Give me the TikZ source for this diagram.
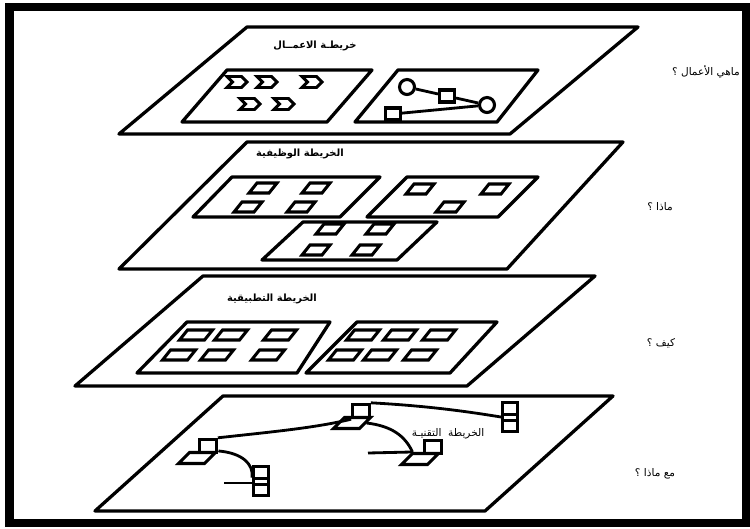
\documentclass[tikz,border=0pt]{standalone}
\usepackage{fontspec}
\newfontfamily\arabicfont[Script=Arabic]{DejaVu Sans}
\TeXXeTstate=1
\usepackage{tikz}
\usetikzlibrary{shapes.symbols}

\begin{document}
\begin{tikzpicture}[x=0.03cm, y=-0.03cm,
  every node/.style={font=\arabicfont\fontsize{9}{10}\selectfont, inner sep=0pt},
  outerframe/.style={line width=7pt},
  mapplane/.style={line width=2.8pt, line join=round},
  panel/.style={line width=2.8pt, line join=round},
  title/.style={font=\arabicfont\bfseries\fontsize{8.5}{10}\selectfont},
  question/.style={font=\arabicfont\fontsize{9}{10}\selectfont},
  chevron/.style={signal, signal from=west, signal to=east, draw, line width=2.5pt, minimum width=0.6cm, minimum height=0.33cm},
  cell/.style={rectangle, draw, xslant=0.8, line width=2.6pt, minimum width=0.6cm, minimum height=0.3cm},
  appcell/.style={cell, minimum width=0.75cm},
  hub/.style={circle, draw, line width=2.6pt, minimum size=0.45cm},
  unit/.style={rectangle, draw, line width=2.6pt, minimum width=0.45cm, minimum height=0.36cm},
  screen/.style={rectangle, draw, line width=2.6pt, minimum width=0.5cm, minimum height=0.4cm},
  keyboard/.style={rectangle, draw, xslant=1, line width=2.6pt, minimum width=0.78cm, minimum height=0.33cm},
  server/.style={rectangle, draw, line width=2.6pt, minimum width=0.45cm, minimum height=0.85cm},
  link/.style={line width=2.4pt}
]
  \useasboundingbox (0,0) rectangle (750,529);
  \draw[outerframe] (9.5,7) rectangle (746,523);

  \draw[mapplane] (247,27) -- (638,27) -- (510,134) -- (119,134) -- cycle;
  \draw[mapplane] (247,142) -- (623,142) -- (507,269) -- (119,269) -- cycle;
  \draw[mapplane] (203,276) -- (595,276) -- (467,386) -- (75,386) -- cycle;
  \draw[mapplane] (223,396) -- (613,396) -- (485,511) -- (95,511) -- cycle;

  \draw[panel] (227,70) -- (372,70) -- (327,122) -- (182,122) -- cycle;
  \draw[panel] (398,70) -- (538,70) -- (497,122) -- (355,122) -- cycle;
  \draw[panel] (232,177) -- (380,177) -- (340,217) -- (193,217) -- cycle;
  \draw[panel] (407,177) -- (538,177) -- (498,217) -- (367,217) -- cycle;
  \draw[panel] (303,222) -- (437,222) -- (397,260) -- (262,260) -- cycle;
  \draw[panel] (187,322) -- (330,322) -- (297,373) -- (137,373) -- cycle;
  \draw[panel] (357,322) -- (497,322) -- (450,373) -- (306,373) -- cycle;

  \node[title] (tBiz) at (315,46) {\beginR خريطـة الاعمــال\endR};
  \node[title] (tFun) at (300,154) {\beginR الخريطة الوظيفية\endR};
  \node[title] (tApp) at (272,299) {\beginR الخريطة التطبيقية\endR};
  \node (tTech) at (448,434) {\beginR الخريطة~ التقنيـة\endR};

  \node[question] (qBiz) at (706,72) {\beginR ماهي الأعمال ؟\endR};
  \node[question] (qWhat) at (660,207) {\beginR ماذا ؟\endR};
  \node[question] (qHow) at (661,343) {\beginR كيف ؟\endR};
  \node[question] (qWith) at (655,474) {\beginR مع ماذا ؟\endR};

  \foreach \cx/\cy [count=\i] in {237/82, 267/82, 312/82, 250/104, 284/104}
    \node[chevron] (chev\i) at (\cx,\cy) {};

  \node[hub] (hubA) at (407,87) {};
  \node[unit] (unitA) at (447,96) {};
  \node[hub] (hubB) at (487,105) {};
  \node[unit] (unitB) at (393,114) {};
  \draw[link] (hubA) -- (unitA);
  \draw[link] (unitA) -- (hubB);
  \draw[link] (unitB) -- (hubB);

  \foreach \cx/\cy [count=\i] in {263/188, 316/188, 248/207, 301/207, 420/189, 495/189, 450/207, 330/229, 380/229, 316/250, 366/250}
    \node[cell] (fun\i) at (\cx,\cy) {};

  \foreach \cx/\cy [count=\i] in {196/335, 231/335, 280/335, 179/355, 217/355, 268/355, 363/335, 400/335, 439/335, 345/355, 380/355, 420/355}
    \node[appcell] (app\i) at (\cx,\cy) {};

  \node[screen] (monA) at (361,411) {};
  \node[keyboard] (kbA) at (352,423) {};
  \node[server] (srvB) at (510,417) {};
  \node[screen] (monC) at (208,446) {};
  \node[keyboard] (kbC) at (197,458) {};
  \node[server] (srvD) at (261,481) {};
  \node[screen] (monE) at (433,447) {};
  \node[keyboard] (kbE) at (420,459) {};
  \foreach \s in {srvB, srvD} {
    \draw[link] ([yshift=0.07cm]\s.west) -- ([yshift=0.07cm]\s.east);
    \draw[link] ([yshift=-0.1cm]\s.west) -- ([yshift=-0.1cm]\s.east);
  }

  \coordinate (tapD) at (224,483);
  \coordinate (tapE) at (368,453);
  \draw[link] (monC.north east) .. controls (270,432) and (315,428) .. (monA.south west);
  \draw[link] (kbC.north east) .. controls (242,453) and (254,464) .. ([yshift=0.1cm]srvD.west);
  \draw[link] (tapD) -- ([yshift=-0.06cm]srvD.west);
  \draw[link] (monA.north east) .. controls (430,406) and (470,412) .. (srvB.west);
  \draw[link] (kbA.east) .. controls (392,426) and (405,436) .. (kbE.north west);
  \draw[link] (tapE) -- (kbE.north west);
\end{tikzpicture}
\end{document}
